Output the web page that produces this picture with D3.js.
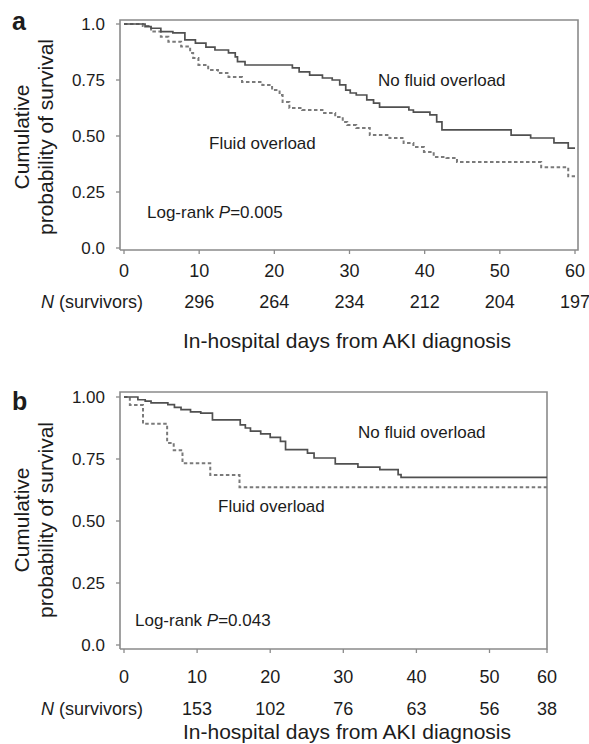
<!DOCTYPE html>
<html>
<head>
<meta charset="utf-8">
<script src="https://cdn.jsdelivr.net/npm/d3@7"></script>
<style>
  html, body { margin: 0; padding: 0; background: #fff; }
  svg { display: block; }
  text { font-family: "Liberation Sans", Arial, Helvetica, sans-serif; fill: #1c1c1c; }
</style>
</head>
<body>
<svg id="chart" width="589" height="744"></svg>
<script>
// ---- Panel a: all AKI patients ----
const aNoFluidDays = [0, 2.8, 3.6, 4.9, 6.5, 8.1, 9.5, 10.9, 12.1, 13.9, 14.8, 15.1, 16.1, 22.4, 23.3, 24.7, 26.4, 27.7, 28.7, 29.5, 30.1, 30.9, 32.3, 33.2, 34.0, 37.9, 38.5, 40.7, 41.6, 42.3, 51.5, 54.1, 57.2, 59.1];
const aNoFluidSurv = [1.0, 0.988, 0.981, 0.966, 0.96, 0.929, 0.915, 0.897, 0.884, 0.871, 0.853, 0.832, 0.817, 0.804, 0.786, 0.772, 0.759, 0.75, 0.728, 0.705, 0.692, 0.683, 0.661, 0.647, 0.629, 0.616, 0.607, 0.594, 0.563, 0.527, 0.504, 0.491, 0.469, 0.446];
const aFluidDays = [0, 2.5, 3.6, 4.9, 5.9, 7.6, 8.8, 9.2, 9.9, 11.2, 12.5, 13.9, 15.7, 18.4, 19.7, 20.7, 21.1, 22.0, 23.7, 26.4, 28.1, 29.1, 29.7, 30.9, 32.7, 35.3, 37.2, 38.5, 39.9, 41.2, 42.9, 44.3, 55.5, 59.1];
const aFluidSurv = [1.0, 0.991, 0.966, 0.943, 0.921, 0.899, 0.871, 0.848, 0.817, 0.795, 0.781, 0.763, 0.741, 0.728, 0.705, 0.683, 0.652, 0.625, 0.616, 0.603, 0.585, 0.563, 0.549, 0.536, 0.504, 0.491, 0.469, 0.451, 0.429, 0.406, 0.402, 0.384, 0.36, 0.32];
const aAtRisk = ["296", "264", "234", "212", "204", "197"];
const aYTicks = [0, 0.25, 0.5, 0.75, 1.0];
const aYTickLabels = ["0.0", "0.25", "0.50", "0.75", "1.0"];
const aLogRank = "0.005";

// ---- Panel b: subgroup ----
const bNoFluidDays = [0, 1.9, 2.9, 3.7, 6.0, 6.9, 7.8, 9.1, 10.5, 12.1, 15.9, 16.6, 17.3, 18.7, 20.0, 21.4, 22.1, 25.1, 26.0, 28.9, 32.0, 35.0, 37.5, 37.9];
const bNoFluidSurv = [1.0, 0.989, 0.983, 0.976, 0.969, 0.958, 0.949, 0.94, 0.935, 0.908, 0.888, 0.875, 0.862, 0.851, 0.837, 0.821, 0.788, 0.774, 0.754, 0.730, 0.717, 0.707, 0.687, 0.676];
const bFluidDays = [0, 0.8, 2.6, 5.9, 6.8, 8.0, 11.8, 15.8];
const bFluidSurv = [1.0, 0.968, 0.892, 0.815, 0.785, 0.733, 0.685, 0.636];
const bAtRisk = ["153", "102", "76", "63", "56", "38"];
const bYTicks = [0, 0.25, 0.5, 0.75, 1.0];
const bYTickLabels = ["0.0", "0.25", "0.50", "0.75", "1.00"];
const bLogRank = "0.043";

// shared
const xTicks = [0, 10, 20, 30, 40, 50, 60];
const atRiskDays = [10, 20, 30, 40, 50, 60];
const endDay = 60;

const svg = d3.select("#chart");

function zipSeries(days, surv) {
  const pts = days.map((d, i) => ({ t: d, s: surv[i] }));
  pts.push({ t: endDay, s: surv[surv.length - 1] });
  return pts;
}

function panel(cfg) {
  const g = svg.append("g");
  const x = cfg.x, y = cfg.y;
  const [x0, x1] = [cfg.frame.left, cfg.frame.right];
  const [yTop, yBot] = [cfg.frame.top, cfg.frame.bottom];

  // frame
  g.append("path")
    .attr("d", `M${x0},${yBot}V${yTop}H${x1}V${yBot}H${x0}`)
    .attr("fill", "none").attr("stroke", "#8a8a8a").attr("stroke-width", 1.6);

  // y ticks
  const yAxis = g.append("g");
  cfg.yTicks.forEach((v, i) => {
    yAxis.append("line").attr("x1", x0 - 4).attr("x2", x0).attr("y1", y(v)).attr("y2", y(v))
      .attr("stroke", "#8a8a8a").attr("stroke-width", 1.3);
    yAxis.append("text").attr("x", x0 - 15).attr("y", y(v)).attr("dy", "0.36em")
      .attr("text-anchor", "end").style("font-size", "17px").text(cfg.yTickLabels[i]);
  });

  // x ticks
  const xAxis = g.append("g");
  xTicks.forEach(v => {
    xAxis.append("line").attr("x1", x(v)).attr("x2", x(v)).attr("y1", yBot).attr("y2", yBot + 4)
      .attr("stroke", "#8a8a8a").attr("stroke-width", 1.3);
    xAxis.append("text").attr("x", x(v)).attr("y", cfg.tickY).attr("dy", "0.36em")
      .attr("text-anchor", "middle").style("font-size", "18px").text(v);
  });

  // at-risk row
  const nLab = g.append("text").attr("x", 143).attr("y", cfg.nY).attr("dy", "0.36em")
    .attr("text-anchor", "end").style("font-size", "18px");
  nLab.append("tspan").style("font-style", "italic").text("N");
  nLab.append("tspan").text(" (survivors)");
  atRiskDays.forEach((d, i) => {
    g.append("text").attr("x", x(d)).attr("y", cfg.nY).attr("dy", "0.36em")
      .attr("text-anchor", "middle").style("font-size", "18px").text(cfg.atRisk[i]);
  });

  // x title
  g.append("text").attr("x", 347).attr("y", cfg.xTitleY).attr("dy", "0.36em")
    .attr("text-anchor", "middle").style("font-size", "21px")
    .text("In-hospital days from AKI diagnosis");

  // y title
  const yt = g.append("text").attr("transform", `translate(0,${cfg.yTitleMid}) rotate(-90)`)
    .attr("text-anchor", "middle").style("font-size", "21px");
  yt.append("tspan").attr("x", 0).attr("y", 29).text("Cumulative");
  yt.append("tspan").attr("x", 0).attr("y", 53).text("probability of survival");

  // panel letter
  g.append("text").attr("x", 12).attr("y", cfg.letterY)
    .style("font-size", "25px").style("font-weight", "bold").text(cfg.letter);

  // survival curves
  const line = d3.line().x(d => x(d.t)).y(d => y(d.s)).curve(d3.curveStepAfter);
  g.append("path").datum(zipSeries(cfg.fluidDays, cfg.fluidSurv))
    .attr("d", line).attr("fill", "none").attr("stroke", "#7a7a7a")
    .attr("stroke-width", 2).attr("stroke-dasharray", "3.5,2.5");
  g.append("path").datum(zipSeries(cfg.noFluidDays, cfg.noFluidSurv))
    .attr("d", line).attr("fill", "none").attr("stroke", "#505050")
    .attr("stroke-width", 1.7);

  // in-plot labels
  g.append("text").attr("x", cfg.noLab[0]).attr("y", cfg.noLab[1])
    .style("font-size", "17px").text("No fluid overload");
  g.append("text").attr("x", cfg.foLab[0]).attr("y", cfg.foLab[1])
    .style("font-size", "17px").text("Fluid overload");
  const lr = g.append("text").attr("x", cfg.lrLab[0]).attr("y", cfg.lrLab[1]).style("font-size", "17px");
  lr.append("tspan").text("Log-rank ");
  lr.append("tspan").style("font-style", "italic").text("P");
  lr.append("tspan").text("=" + cfg.logRank);
}

panel({
  letter: "a", letterY: 30,
  x: d3.scaleLinear().domain([0, 60]).range([124, 575]),
  y: d3.scaleLinear().domain([0, 1]).range([248, 24]),
  frame: { left: 120, right: 578, top: 20, bottom: 250 },
  yTicks: aYTicks, yTickLabels: aYTickLabels,
  tickY: 271, nY: 302, xTitleY: 340, yTitleMid: 137,
  atRisk: aAtRisk,
  noFluidDays: aNoFluidDays, noFluidSurv: aNoFluidSurv,
  fluidDays: aFluidDays, fluidSurv: aFluidSurv,
  noLab: [378, 86], foLab: [209, 149], lrLab: [147, 218], logRank: aLogRank
});

panel({
  letter: "b", letterY: 410,
  x: d3.scaleLinear().domain([0, 50, 60]).range([124, 489.5, 547]),
  y: d3.scaleLinear().domain([0, 1]).range([645, 397]),
  frame: { left: 120, right: 547, top: 392, bottom: 649 },
  yTicks: bYTicks, yTickLabels: bYTickLabels,
  tickY: 677, nY: 709, xTitleY: 731, yTitleMid: 520,
  atRisk: bAtRisk,
  noFluidDays: bNoFluidDays, noFluidSurv: bNoFluidSurv,
  fluidDays: bFluidDays, fluidSurv: bFluidSurv,
  noLab: [358, 438], foLab: [218, 512], lrLab: [135, 626], logRank: bLogRank
});
</script>
</body>
</html>
